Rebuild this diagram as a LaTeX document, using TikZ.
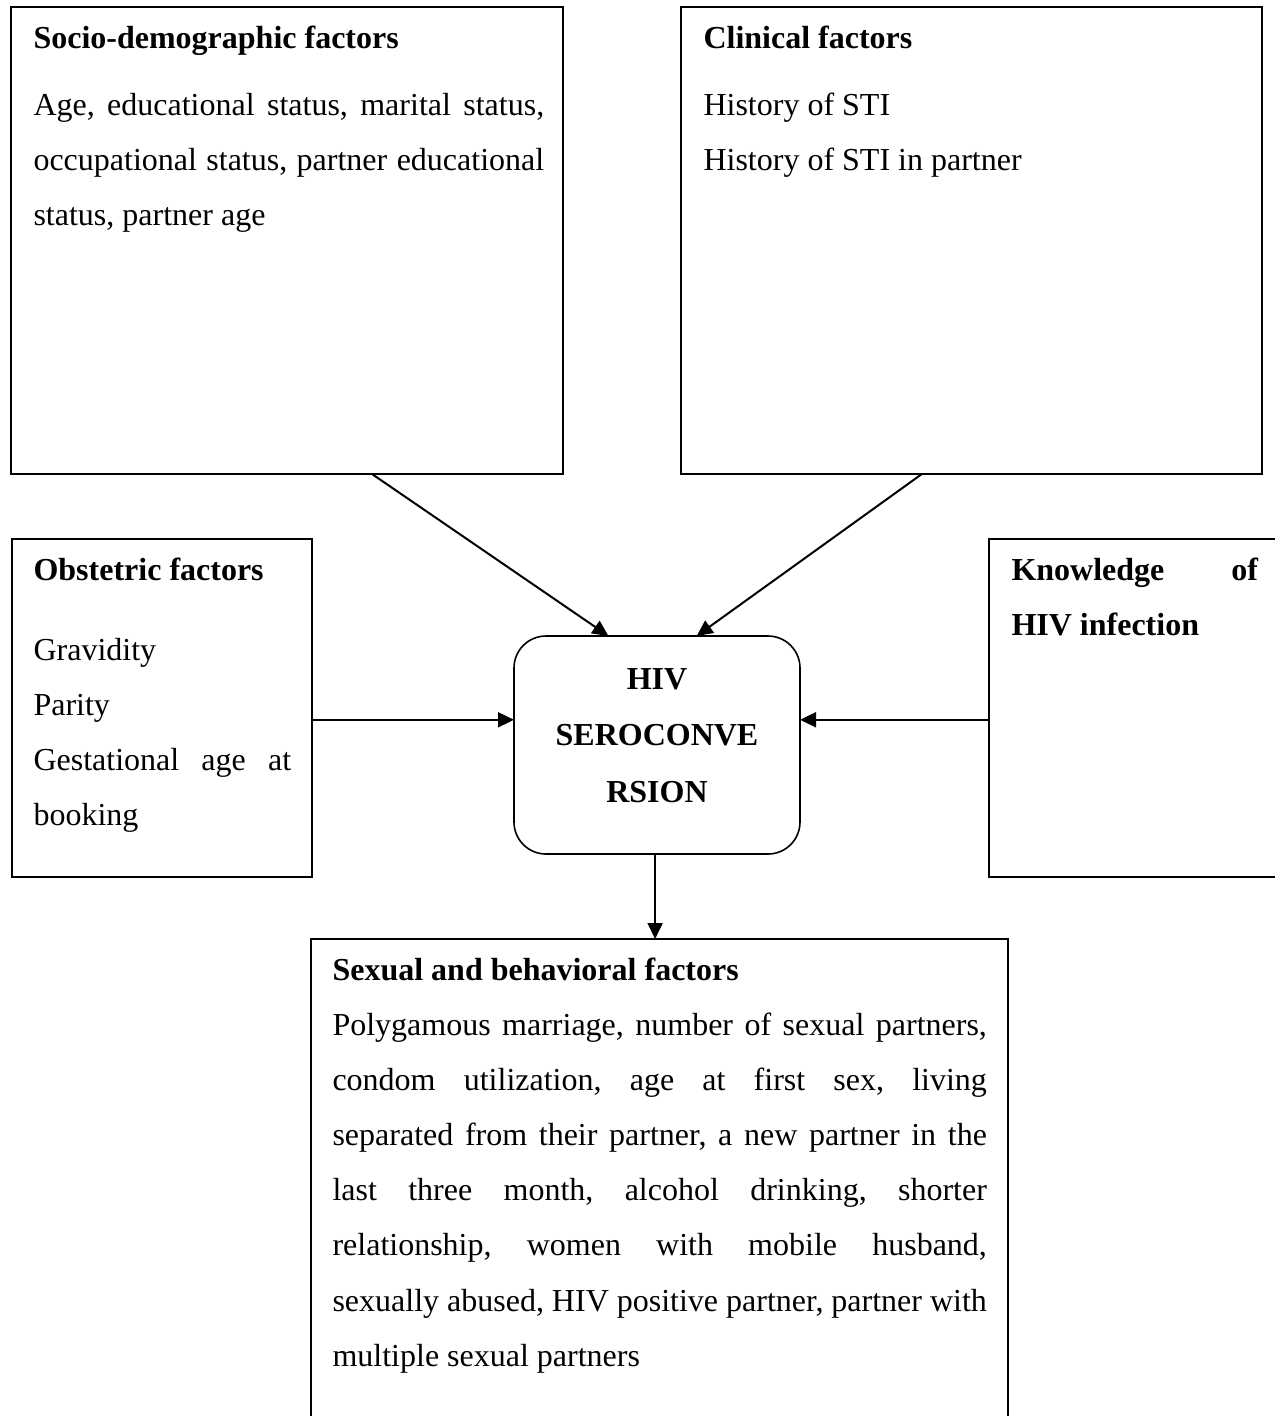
\documentclass[tikz,border=0pt]{standalone}
\usepackage{fontspec}
\setmainfont{Liberation Serif}
\usetikzlibrary{arrows.meta,positioning,fit}
\tolerance=10000
\hbadness=10000
\frenchspacing

\tikzset{
  box/.style={draw, line width=0.6pt, inner sep=0pt, outer sep=0pt},
  head/.style={font=\fontsize{12}{20.7}\selectfont\bfseries, inner sep=0pt, anchor=base west},
  body/.style={font=\fontsize{12}{20.7}\selectfont, inner sep=0pt, anchor=base west, align=justify},
  arr/.style={-{Triangle[length=6pt,width=5.6pt]}, line width=0.75pt}
}

\begin{document}
\begin{tikzpicture}[x=0.375pt, y=-0.375pt]
  \useasboundingbox (0,0) rectangle (1275,1416);
  \clip (0,0) rectangle (1275,1416);

  % Socio-demographic factors (top left)
  \node[box, fit={(11,7) (563,474)}] (socio) {};
  \node[head] (sociohead) at ([shift={(22,41)}]socio.north west) {Socio-demographic factors};
  \node[body, text width=191.5pt] (sociobody) at ([shift={(0,67)}]sociohead.base west)
    {Age, educational status, marital status,\linebreak occupational status, partner educational\linebreak status, partner age};

  % Clinical factors (top right)
  \node[box, fit={(681,7) (1262,474)}] (clin) {};
  \node[head] (clinhead) at ([shift={(22,41)}]clin.north west) {Clinical factors};
  \node[body, text width=201.75pt] (clinbody) at ([shift={(0,67)}]clinhead.base west)
    {History of STI\par History of STI in partner};

  % Obstetric factors (left)
  \node[box, fit={(12,539) (312,877)}] (obst) {};
  \node[head] (obsthead) at ([shift={(21,41)}]obst.north west) {Obstetric factors};
  \node[body, text width=96.6pt] (obstbody) at ([shift={(0,80)}]obsthead.base west)
    {Gravidity\par Parity\par Gestational age at\linebreak booking};

  % Knowledge (right, cut by the page edge)
  \node[box, fit={(989,539) (1320,877)}] (know) {};
  \node[head, text width=92.4pt, align=justify] (knowhead) at ([shift={(22,41)}]know.north west)
    {Knowledge of\linebreak HIV infection};

  % Outcome
  \node[box, rounded corners=12pt, fit={(514,636) (800,854)}] (hiv) {};
  \node[head, anchor=base, text width=100pt, align=center, font=\fontsize{12}{21.2}\selectfont\bfseries]
    (hivlabel) at ([shift={(0,-56)}]hiv.center) {HIV\\SEROCONVE\\RSION};

  % Sexual and behavioral factors (bottom, cut by the page edge)
  \node[box, fit={(311,939) (1008,1470)}] (sex) {};
  \node[head] (sexhead) at ([shift={(21,41)}]sex.north west) {Sexual and behavioral factors};
  \node[body, text width=245.4pt] (sexbody) at ([shift={(0,55)}]sexhead.base west)
    {Polygamous marriage, number of sexual partners,\linebreak condom utilization, age at first sex, living\linebreak separated from their partner, a new partner in the\linebreak last three month, alcohol drinking, shorter\linebreak relationship, women with mobile husband,\linebreak sexually abused, HIV positive partner, partner with\linebreak multiple sexual partners};

  % Arrows
  \draw[arr] (socio.-70) -- (hiv.114);
  \draw[arr] (clin.-102) -- (hiv.70);
  \draw[arr] (obst.east |- hiv.170) -- (hiv.170);
  \draw[arr] (know.west |- hiv.10) -- (hiv.10);
  \draw[arr] (hiv.-91) -- (hiv.-91 |- sex.north);
\end{tikzpicture}
\end{document}
